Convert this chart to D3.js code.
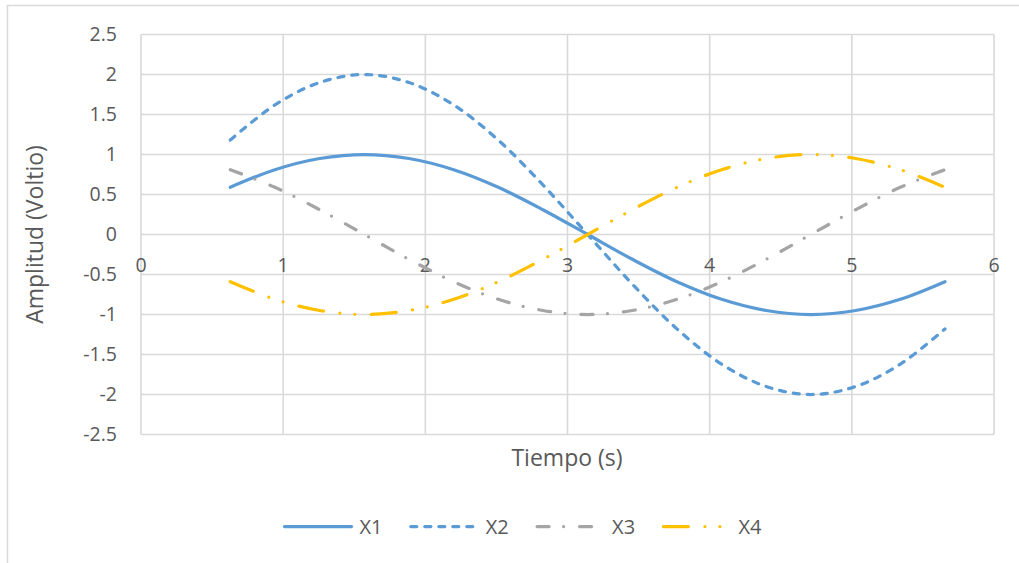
<!DOCTYPE html>
<html>
<head>
<meta charset="utf-8">
<script src="https://cdn.jsdelivr.net/npm/d3@7"></script>
<style>
    html, body { margin: 0; padding: 0; background: #fff; }
    svg { display: block; font-family: 'Open Sans', sans-serif; }
    .grid line { stroke: #d9d9d9; stroke-width: 1.6; }
    .tick-label { fill: #595959; font-size: 19.5px; }
    .axis-title { fill: #595959; font-size: 23px; }
    .legend-label { fill: #595959; font-size: 20px; }
</style>
</head>
<body>
<svg id="chart" width="1019" height="563"></svg>
<script>
(function() {
    'use strict';

    // Tiempo (s) - sample points
    const tiempo = [0.628, 0.942, 1.257, 1.571, 1.885, 2.199, 2.513, 2.827, 3.142,
                    3.456, 3.770, 4.084, 4.398, 4.712, 5.027, 5.341, 5.655];

    const x1 = [0.59, 0.81, 0.95, 1.00, 0.95, 0.81, 0.59, 0.31, 0.00,
                -0.31, -0.59, -0.81, -0.95, -1.00, -0.95, -0.81, -0.59];
    const x2 = [1.18, 1.62, 1.90, 2.00, 1.90, 1.62, 1.18, 0.62, 0.00,
                -0.62, -1.18, -1.62, -1.90, -2.00, -1.90, -1.62, -1.18];
    const x3 = [0.81, 0.59, 0.31, 0.00, -0.31, -0.59, -0.81, -0.95, -1.00,
                -0.95, -0.81, -0.59, -0.31, 0.00, 0.31, 0.59, 0.81];
    const x4 = [-0.59, -0.81, -0.95, -1.00, -0.95, -0.81, -0.59, -0.31, 0.00,
                0.31, 0.59, 0.81, 0.95, 1.00, 0.95, 0.81, 0.59];

    const seriesNames = ['X1', 'X2', 'X3', 'X4'];
    const seriesValues = [x1, x2, x3, x4];

    const xTicks = [0, 1, 2, 3, 4, 5, 6];
    const yTicks = [-2.5, -2, -1.5, -1, -0.5, 0, 0.5, 1, 1.5, 2, 2.5];

    // Line styles (Excel-like)
    const styles = {
        'X1': { color: '#5b9bd5', dash: null },
        'X2': { color: '#5b9bd5', dash: '6,8' },
        'X3': { color: '#a5a5a5', dash: '12,14.5,0,16' },
        'X4': { color: '#ffc000', dash: '25,16.5,0,15,0,16.5' }
    };

    const plot = { left: 141, right: 994, top: 34.5, bottom: 434.5 };

    const svg = d3.select('#chart');

    // Chart area border
    svg.append('rect')
        .attr('x', 7.5)
        .attr('y', 5.5)
        .attr('width', 1030)
        .attr('height', 580)
        .attr('fill', 'none')
        .attr('stroke', '#d9d9d9')
        .attr('stroke-width', 1.5);

    const x = d3.scaleLinear().domain([0, 6]).range([plot.left, plot.right]);
    const y = d3.scaleLinear().domain([-2.5, 2.5]).range([plot.bottom, plot.top]);

    // Gridlines
    const grid = svg.append('g').attr('class', 'grid');
    grid.selectAll('.hline')
        .data(yTicks)
        .enter()
        .append('line')
        .attr('x1', plot.left)
        .attr('x2', plot.right)
        .attr('y1', d => y(d))
        .attr('y2', d => y(d));
    grid.selectAll('.vline')
        .data(xTicks)
        .enter()
        .append('line')
        .attr('x1', d => x(d))
        .attr('x2', d => x(d))
        .attr('y1', plot.top)
        .attr('y2', plot.bottom);

    // Y tick labels
    svg.append('g')
        .selectAll('text')
        .data(yTicks)
        .enter()
        .append('text')
        .attr('class', 'tick-label')
        .attr('x', 117)
        .attr('y', d => y(d))
        .attr('dy', '0.35em')
        .attr('text-anchor', 'end')
        .text(d => d);

    // X tick labels (sit below the zero line)
    svg.append('g')
        .selectAll('text')
        .data(xTicks)
        .enter()
        .append('text')
        .attr('class', 'tick-label')
        .attr('x', d => x(d))
        .attr('y', y(0) + 31)
        .attr('dy', '0.35em')
        .attr('text-anchor', 'middle')
        .text(d => d);

    // Axis titles
    svg.append('text')
        .attr('class', 'axis-title')
        .attr('x', 567)
        .attr('y', 458)
        .attr('dy', '0.35em')
        .attr('text-anchor', 'middle')
        .text('Tiempo (s)');

    svg.append('text')
        .attr('class', 'axis-title')
        .attr('transform', `translate(35,${y(0)}) rotate(-90)`)
        .attr('dy', '0.35em')
        .attr('text-anchor', 'middle')
        .text('Amplitud (Voltio)');

    // Lines
    const line = d3.line()
        .x((d, i) => x(tiempo[i]))
        .y(d => y(d))
        .curve(d3.curveCatmullRom.alpha(0.5));

    const lines = svg.append('g');
    seriesNames.forEach((name, k) => {
        lines.append('path')
            .datum(seriesValues[k])
            .attr('d', line)
            .attr('fill', 'none')
            .attr('stroke', styles[name].color)
            .attr('stroke-width', 3.25)
            .attr('stroke-linecap', 'round')
            .attr('stroke-dasharray', styles[name].dash);
    });

    // Legend
    const legendY = 526.5;
    const legendStart = 284.5;
    const legendStep = 126.3;
    const legend = svg.append('g');
    seriesNames.forEach((name, k) => {
        const lx = legendStart + k * legendStep;
        legend.append('line')
            .attr('x1', lx)
            .attr('x2', lx + 67)
            .attr('y1', legendY)
            .attr('y2', legendY)
            .attr('stroke', styles[name].color)
            .attr('stroke-width', 3.25)
            .attr('stroke-linecap', 'round')
            .attr('stroke-dasharray', styles[name].dash);
        legend.append('text')
            .attr('class', 'legend-label')
            .attr('x', lx + 75)
            .attr('y', legendY)
            .attr('dy', '0.35em')
            .text(name);
    });
})();
</script>
</body>
</html>
